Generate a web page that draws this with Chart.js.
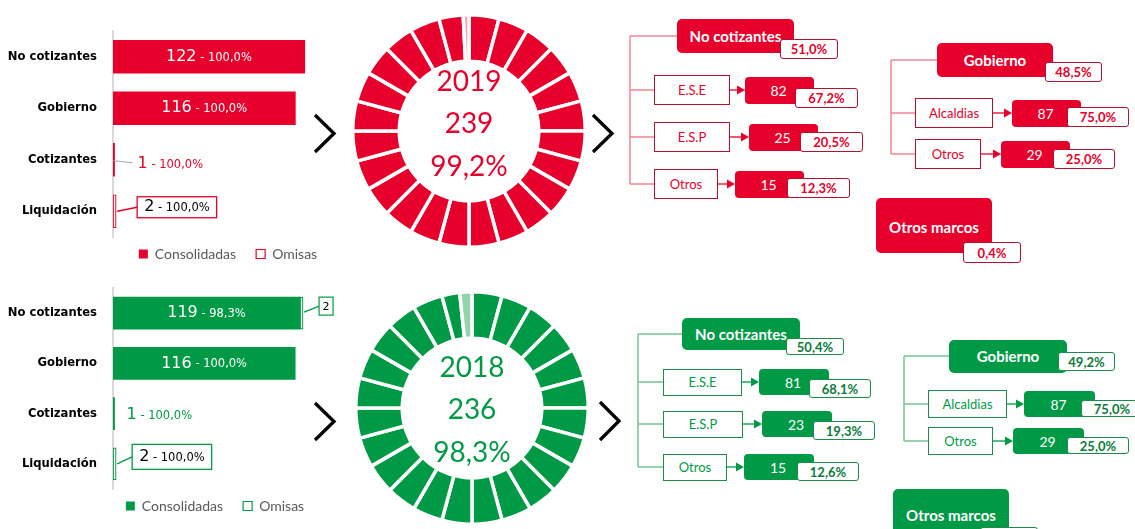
<!DOCTYPE html>
<html lang="es">
<head>
<meta charset="utf-8">
<title>Consolidación 2019 - 2018</title>
<script src="https://cdn.jsdelivr.net/npm/chart.js@4.4.1/dist/chart.umd.min.js"></script>
<style>
  html, body { margin: 0; padding: 0; background: #fff; }
  body { position: relative; width: 1135px; height: 529px; overflow: hidden; font-family: Lato, "Open Sans", sans-serif; }
  .wrap { position: absolute; }
  .box { position: absolute; box-sizing: border-box; display: flex; align-items: center; justify-content: center; white-space: nowrap; }
  .cab { color: #fff; font-weight: 700; font-size: 15px; border-radius: 5px; }
  .rama { background: #fff; border: 1.5px solid; font-size: 13px; }
  .val { color: #fff; font-size: 14px; border-radius: 4px; }
  .pct { background: #fff; border: 1.5px solid; border-radius: 3px; font-weight: 700; font-size: 13px; }
  svg { position: absolute; left: 0; top: 0; }
</style>
</head>
<body>
<svg id="lineas" width="1135" height="529"></svg>
<div class="wrap" style="left:0;top:0;width:456px;height:281px"><canvas id="bar19"></canvas></div>
<div class="wrap" style="left:0;top:257px;width:430px;height:276px"><canvas id="bar18"></canvas></div>
<div class="wrap" style="left:351px;top:13px;width:236px;height:236px"><canvas id="dona19"></canvas></div>
<div class="wrap" style="left:354px;top:290px;width:236px;height:236px"><canvas id="dona18"></canvas></div>
<script>
// ---- datos ----
const categorias = ['No cotizantes', 'Gobierno', 'Cotizantes', 'Liquidación'];
const cons2019 = [122, 116, 1, 2];
const omis2019 = [0, 0, 0, 0];
const pct2019 = [100.0, 100.0, 100.0, 100.0];
const cons2018 = [119, 116, 1, 2];
const omis2018 = [2, 0, 0, 0];
const pct2018 = [98.3, 100.0, 100.0, 100.0];

const anios = ['2019', '2018'];
const totales = [239, 236];
const pctConsolidado = [99.2, 98.3];
const SEGMENTOS = 24;

const marcos = ['No cotizantes', 'Gobierno', 'Otros marcos'];
const pctMarcos2019 = [51.0, 48.5, 0.4];
const pctMarcos2018 = [50.4, 49.2, 0.4];
const ramasNoCot = ['E.S.E', 'E.S.P', 'Otros'];
const valNoCot2019 = [82, 25, 15];
const pctNoCot2019 = [67.2, 20.5, 12.3];
const valNoCot2018 = [81, 23, 15];
const pctNoCot2018 = [68.1, 19.3, 12.6];
const ramasGob = ['Alcaldias', 'Otros'];
const valGob2019 = [87, 29];
const pctGob2019 = [75.0, 25.0];
const valGob2018 = [87, 29];
const pctGob2018 = [75.0, 25.0];

// ---- estilos ----
const ROJO = '#E6002B', ROJO_CLARO = '#F5A3B2', ROJO_LINEA = '#F08595', ROJO_BORDE = '#B3122F';
const VERDE = '#009A46', VERDE_CLARO = '#93D4AE', VERDE_LINEA = '#74C494', VERDE_BORDE = '#1E8A4C';
const contorno = [false, false, false, true];

const fmt = v => v.toFixed(1).replace('.', ',') + '%';

// etiquetas de las barras
const etiquetas = {
  id: 'etiquetas',
  afterDatasetsDraw(chart, args, o) {
    const ctx = chart.ctx;
    const ds = chart.data.datasets;
    const metaC = chart.getDatasetMeta(0), metaO = chart.getDatasetMeta(1);
    ctx.save();
    ctx.textBaseline = 'middle';
    const partes = (i) => [String(ds[0].data[i]), ' - ' + fmt(o.pcts[i])];
    const fuentes = ['16px "DejaVu Sans"', '11.5px "DejaVu Sans"'];
    const ancho = (p) => { ctx.font = fuentes[0]; let w = ctx.measureText(p[0]).width; ctx.font = fuentes[1]; return w + ctx.measureText(p[1]).width; };
    const texto = (p, x, y, color) => {
      ctx.fillStyle = color; ctx.textAlign = 'left';
      ctx.font = fuentes[0]; ctx.fillText(p[0], x, y);
      const w0 = ctx.measureText(p[0]).width;
      ctx.font = fuentes[1]; ctx.fillText(p[1], x + w0, y + 1);
    };
    metaC.data.forEach((bar, i) => {
      const p = partes(i), w = ancho(p);
      const modo = o.modos[i];
      if (modo === 'dentro') {
        texto(p, (bar.base + bar.x) / 2 - w / 2, bar.y, '#fff');
      } else if (modo === 'linea') {
        const tx = bar.x + o.linea.dx, ty = bar.y + o.linea.dy;
        if (o.linea.color) {
          ctx.strokeStyle = o.linea.color; ctx.lineWidth = 1.2;
          ctx.beginPath(); ctx.moveTo(bar.x - 1, bar.y + 1); ctx.lineTo(tx - 5, ty - 1); ctx.stroke();
        }
        texto(p, tx, ty, o.color);
      } else if (modo === 'caja') {
        const bx = bar.x + o.caja.dx, by = bar.y + o.caja.dy, bw = w + 14, bh = o.caja.h;
        ctx.strokeStyle = o.color; ctx.lineWidth = 1.3;
        ctx.beginPath(); ctx.moveTo(bar.x + 1, bar.y); ctx.lineTo(bx, by); ctx.stroke();
        ctx.fillStyle = '#fff'; ctx.fillRect(bx, by - bh / 2, bw, bh);
        ctx.strokeRect(bx, by - bh / 2, bw, bh);
        texto(p, bx + 7, by, '#000');
      }
    });
    metaO.data.forEach((bar, i) => {
      const v = ds[1].data[i];
      if (!v) return;
      const bx = bar.x + 16, by = bar.y - 7, bw = 14, bh = 18;
      ctx.strokeStyle = o.color; ctx.lineWidth = 1.2;
      ctx.beginPath(); ctx.moveTo(bar.x + 1, bar.y - 1); ctx.lineTo(bx, by); ctx.stroke();
      ctx.fillStyle = '#fff'; ctx.fillRect(bx, by - bh / 2, bw, bh); ctx.strokeRect(bx, by - bh / 2, bw, bh);
      ctx.fillStyle = '#000'; ctx.font = '11px "DejaVu Sans"'; ctx.textAlign = 'center';
      ctx.fillText(String(v), bx + bw / 2, by + 1);
    });
    ctx.restore();
  }
};

// la leyenda queda mas pegada al eje que lo que da su padding
const subirLeyenda = {
  id: 'subirLeyenda',
  afterLayout(chart, args, o) {
    chart.legend.top -= o.dy;
    chart.legend.bottom -= o.dy;
  }
};

function barras(id, cons, omis, pcts, color, grosor, xmax, modos, linea, caja) {
  return new Chart(document.getElementById(id), {
    type: 'bar',
    data: {
      labels: categorias,
      datasets: [
        { label: 'Consolidadas', data: cons,
          backgroundColor: c => contorno[c.dataIndex] ? '#fff' : color,
          borderColor: color, borderWidth: c => contorno[c.dataIndex] ? 1.2 : 0,
          borderSkipped: false, barThickness: grosor },
        { label: 'Omisas', data: omis, backgroundColor: '#fff', borderColor: color, borderWidth: 1.2,
          borderSkipped: false, barThickness: grosor }
      ]
    },
    options: {
      indexAxis: 'y', animation: false, responsive: true, maintainAspectRatio: false,
      layout: { padding: { top: 31, bottom: 0 } },
      scales: {
        x: { stacked: true, display: false, min: 0, max: xmax },
        y: { stacked: true, grid: { display: false, drawTicks: false },
             border: { color: '#D9D9D9', width: 2 },
             ticks: { color: '#000', padding: 16, font: { family: 'DejaVu Sans', size: 11.6, weight: 'bold' } },
             afterFit(s) { s.width = 113; } }
      },
      plugins: {
        legend: { position: 'bottom', labels: { boxWidth: 9, boxHeight: 9, padding: 20, color: '#595959',
                  font: { family: 'Lato', size: 14 } } },
        subirLeyenda: { dy: 10 },
        tooltip: { enabled: false },
        etiquetas: { pcts, modos, color, linea, caja }
      }
    },
    plugins: [etiquetas, subirLeyenda]
  });
}

barras('bar19', cons2019, omis2019, pct2019, ROJO, 33, 218.2, ['dentro', 'dentro', 'linea', 'caja'],
  { dx: 23, dy: 4, color: '#A6A6A6' }, { dx: 21, dy: -4, h: 21 });
barras('bar18', cons2018, omis2018, pct2018, VERDE, 32, 201.8, ['dentro', 'dentro', 'linea', 'caja'],
  { dx: 12, dy: 1, color: null }, { dx: 16, dy: -7, h: 25 });

// donas
const centro = {
  id: 'centro',
  afterDraw(chart, args, o) {
    const { ctx, chartArea: a } = chart;
    const cx = (a.left + a.right) / 2, cy = (a.top + a.bottom) / 2 + o.dy;
    ctx.save();
    ctx.fillStyle = o.color; ctx.font = '28px Lato'; ctx.textAlign = 'center'; ctx.textBaseline = 'middle';
    o.lineas.forEach((t, i) => ctx.fillText(t, cx, cy + (i - 1) * 42.5));
    ctx.restore();
  }
};

function dona(id, k, color, claro, dy) {
  const omit = (100 - pctConsolidado[k]) / 100 * SEGMENTOS;
  const data = [], colores = [];
  for (let i = 0; i < SEGMENTOS - 1; i++) { data.push(1); colores.push(color); }
  data.push(1 - omit, omit); colores.push(color, claro);
  return new Chart(document.getElementById(id), {
    type: 'doughnut',
    data: { labels: data.map((_, i) => i), datasets: [{ data, backgroundColor: colores, borderColor: '#fff', borderWidth: 3.5 }] },
    options: {
      animation: false, responsive: true, maintainAspectRatio: false, cutout: '60%',
      plugins: { legend: { display: false }, tooltip: { enabled: false },
        centro: { color, dy, lineas: [anios[k], String(totales[k]), fmt(pctConsolidado[k])] } }
    },
    plugins: [centro]
  });
}
dona('dona19', 0, ROJO, ROJO_CLARO, -7);
dona('dona18', 1, VERDE, VERDE_CLARO, 2);

// flechas y arboles
const svg = document.getElementById('lineas');
const NS = 'http://www.w3.org/2000/svg';
function svgEl(tag, attrs) { const e = document.createElementNS(NS, tag); for (const k in attrs) e.setAttribute(k, attrs[k]); svg.appendChild(e); return e; }
function linea(x1, y1, x2, y2, color, w) { svgEl('line', { x1, y1, x2, y2, stroke: color, 'stroke-width': w || 1.5 }); }
function flecha(x1, x2, y, color) {
  linea(x1, y, x2 - 7, y, color, 1.3);
  svgEl('path', { d: `M${x2},${y} L${x2 - 8},${y - 4.5} L${x2 - 8},${y + 4.5} Z`, fill: color });
}
function chevron(x, y1, y2) {
  svgEl('polyline', { points: `${x},${y1} ${x + 19},${(y1 + y2) / 2} ${x},${y2}`, fill: 'none', stroke: '#000', 'stroke-width': 3.3 });
}
chevron(315, 115, 152); chevron(593, 115, 152);
chevron(315, 403, 440); chevron(600, 402, 440);

function caja(x, y, w, h, clase, texto, estilo) {
  const d = document.createElement('div');
  d.className = 'box ' + clase;
  Object.assign(d.style, { left: x + 'px', top: y + 'px', width: w + 'px', height: h + 'px' }, estilo || {});
  d.textContent = texto;
  document.body.appendChild(d);
}

function arbol(L, c, titulo, pctTitulo, ramas, valores, pcts) {
  const ultima = L.y + L.filas[L.filas.length - 1];
  linea(L.x, L.y, L.x, ultima, c.linea);
  linea(L.x, L.y, L.x + L.hx, L.y, c.linea);
  const hl = L.x + L.hx;
  caja(hl, L.y - L.hh / 2, L.hw, L.hh, 'cab', titulo, { background: c.color });
  caja(hl + L.hw + L.px, L.y + L.py, L.pw, L.ph, 'pct', fmt(pctTitulo), { borderColor: c.borde, color: c.texto });
  ramas.forEach((r, i) => {
    const fy = L.y + L.filas[i];
    const bl = L.x + L.bx, br = bl + L.bw[i], vl = br + L.gap[i];
    linea(L.x, fy, bl, fy, c.linea);
    flecha(br, vl, fy, c.color);
    caja(bl, fy - L.bh / 2, L.bw[i], L.bh, 'rama', r, { borderColor: c.borde, color: c.color });
    caja(vl, fy - L.vh / 2, L.vw, L.vh, 'val', String(valores[i]), { background: c.color, paddingRight: '2px' });
    caja(vl + L.vp[i], fy + L.vpy[i], L.vpw, L.vph, 'pct', fmt(pcts[i]), { borderColor: c.borde, color: c.texto });
  });
}

const cRojo = { color: ROJO, linea: ROJO_LINEA, borde: ROJO_BORDE, texto: ROJO };
const cVerde = { color: VERDE, linea: VERDE_LINEA, borde: VERDE_BORDE, texto: '#0B7A3B' };

arbol({ x: 630, y: 36, hx: 47, hw: 117, hh: 34, px: -14, pw: 58, py: 3, ph: 20,
        filas: [54, 101, 148], bx: 24, bw: [76, 76, 64], bh: 30, gap: [15, 19, 17],
        vw: 69, vh: 27, vp: [50, 51, 52], vpw: 63, vpy: [-2, -5, -6], vph: 20 },
      cRojo, marcos[0], pctMarcos2019[0], ramasNoCot, valNoCot2019, pctNoCot2019);
arbol({ x: 891, y: 60, hx: 46, hw: 116, hh: 34, px: -8, pw: 57, py: 2, ph: 20,
        filas: [53, 94], bx: 24, bw: [78, 66], bh: 30, gap: [19, 20],
        vw: 69, vh: 27, vp: [55, 52], vpw: 62, vpy: [-6, -5], vph: 20 },
      cRojo, marcos[1], pctMarcos2019[1], ramasGob, valGob2019, pctGob2019);
caja(876, 198, 116, 55, 'cab', marcos[2], { background: ROJO, alignItems: 'flex-start', paddingTop: '20px' });
caja(963, 242, 58, 21, 'pct', fmt(pctMarcos2019[2]), { borderColor: ROJO_BORDE, color: ROJO });

arbol({ x: 638, y: 334, hx: 44, hw: 118, hh: 32, px: -14, pw: 58, py: 4, ph: 17,
        filas: [48, 90, 133], bx: 25, bw: [79, 80, 64], bh: 27, gap: [17, 19, 17],
        vw: 70, vh: 26, vp: [50, 51, 53], vpw: 62, vpy: [-3, -3, -5], vph: 19 },
      cVerde, marcos[0], pctMarcos2018[0], ramasNoCot, valNoCot2018, pctNoCot2018);
arbol({ x: 904, y: 356, hx: 45, hw: 118, hh: 33, px: -9, pw: 57, py: -4, ph: 19,
        filas: [48, 85], bx: 24, bw: [79, 65], bh: 28, gap: [17, 20],
        vw: 71, vh: 26, vp: [57, 54], vpw: 62, vpy: [-4, -4], vph: 17 },
      cVerde, marcos[1], pctMarcos2018[1], ramasGob, valGob2018, pctGob2018);
caja(893, 489, 116, 56, 'cab', marcos[2], { background: VERDE, alignItems: 'flex-start', paddingTop: '17px' });
caja(980, 527, 58, 21, 'pct', fmt(pctMarcos2018[2]), { borderColor: VERDE_BORDE, color: '#0B7A3B' });
</script>
</body>
</html>
